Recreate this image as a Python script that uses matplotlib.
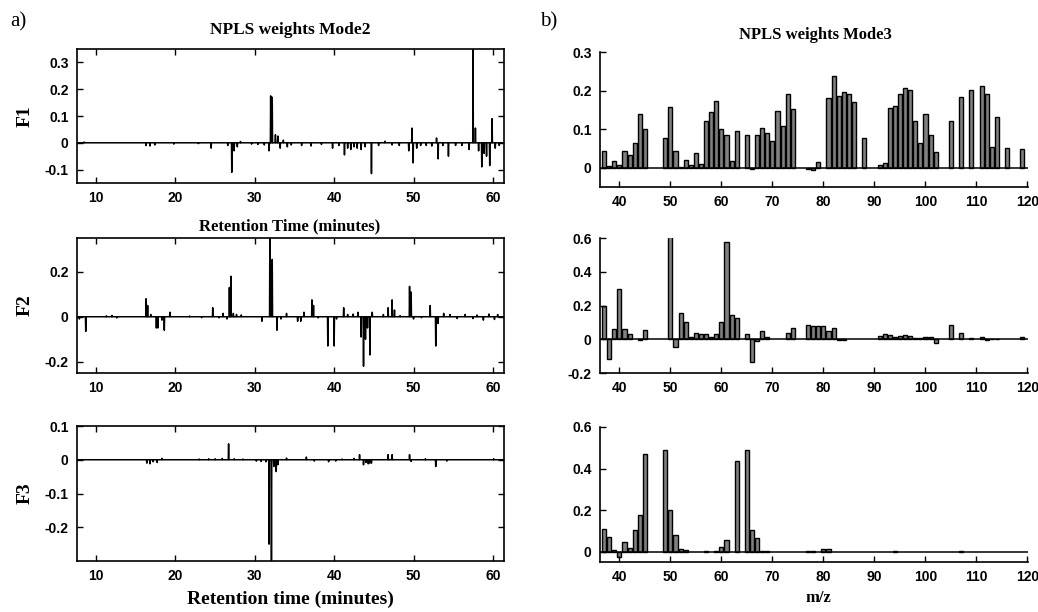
import numpy as np
import matplotlib
matplotlib.use('Agg')
import matplotlib.pyplot as plt
from matplotlib.ticker import FuncFormatter

# NPLS weights, mode 2 (retention time, minutes) - spikes
f1_t = [8.5, 16.3, 16.8, 17.4, 19.8, 22.9, 24.5, 26.6, 27.1, 27.4, 27.8, 28.2, 29.6, 30.4, 31.2, 31.8,
        32.0, 32.2, 32.6, 32.9, 33.2, 33.6, 34.1, 34.6, 35.9, 37.1, 38.4, 39.8, 40.6, 41.3, 41.7, 42.1,
        42.5, 42.9, 43.4, 43.9, 44.7, 45.6, 46.4, 47.3, 48.2, 49.4, 49.8, 49.95, 50.4, 50.9, 51.6, 52.3,
        52.9, 53.1, 53.7, 54.4, 55.3, 56.1, 57.0, 57.5, 57.8, 58.2, 58.6, 58.9, 59.2, 59.6, 59.9, 60.3, 60.8]
f1_w = [0.003, -0.01, -0.012, -0.008, -0.005, -0.003, -0.02, -0.01, -0.11, -0.03, -0.015, 0.005, -0.005,
        -0.006, -0.008, -0.03, 0.175, 0.17, 0.03, 0.025, -0.02, 0.01, -0.015, -0.008, -0.01, -0.012,
        -0.006, -0.02, -0.01, -0.045, -0.02, -0.025, -0.015, -0.02, -0.025, -0.015, -0.115, -0.01, 0.006,
        -0.008, -0.01, -0.03, 0.055, -0.075, -0.02, -0.01, -0.01, -0.012, 0.018, -0.06, -0.01, -0.05,
        -0.01, -0.01, -0.025, 0.36, 0.055, -0.03, -0.09, -0.04, -0.05, -0.085, 0.09, -0.02, -0.01]

f2_t = [7.9, 8.7, 11.3, 12.0, 12.6, 16.3, 16.5, 16.9, 17.6, 17.8, 18.3, 18.6, 19.3, 21.8, 23.3, 24.7,
        25.5, 26.0, 26.5, 26.8, 27.0, 27.3, 27.7, 28.3, 30.9, 31.9, 32.2, 32.8, 33.3, 34.0, 35.4, 35.8,
        36.2, 37.2, 37.4, 38.0, 39.2, 40.0, 40.3, 41.2, 41.7, 42.4, 43.0, 43.4, 43.7, 43.95, 44.2, 44.5,
        44.8, 46.2, 46.8, 47.3, 47.6, 48.3, 49.5, 49.7, 50.0, 51.0, 52.1, 52.8, 53.1, 53.8, 54.6, 55.5,
        56.5, 57.5, 58.0, 58.8, 59.5, 60.2, 60.6]
f2_w = [-0.01, -0.065, 0.004, 0.006, -0.005, 0.08, 0.05, 0.01, -0.05, -0.05, -0.015, -0.06, 0.02, 0.003,
        -0.004, 0.04, -0.005, 0.015, -0.01, 0.13, 0.18, 0.015, 0.01, 0.008, -0.02, 0.36, 0.255, -0.06,
        -0.01, 0.015, -0.02, -0.02, 0.02, 0.075, 0.05, -0.005, -0.13, -0.13, -0.01, 0.04, 0.01, 0.012,
        0.02, -0.09, -0.22, -0.1, -0.05, -0.17, 0.02, 0.01, 0.04, 0.075, 0.03, 0.005, 0.135, 0.11, -0.01,
        -0.004, 0.05, -0.13, -0.03, 0.015, 0.01, -0.008, 0.01, -0.008, 0.008, -0.015, 0.012, -0.012, 0.01]

f3_t = [16.4, 16.8, 17.2, 17.7, 18.3, 23.0, 24.2, 25.0, 25.9, 26.7, 27.4, 28.5, 30.2, 30.8, 31.4, 31.8,
        32.1, 32.4, 32.7, 32.9, 34.0, 36.5, 37.5, 39.3, 40.2, 41.0, 42.5, 43.2, 43.7, 44.0, 44.3, 44.5,
        44.7, 46.8, 47.3, 49.5, 49.7, 51.5, 52.8, 54.2, 60.1]
f3_w = [-0.01, -0.012, -0.006, -0.008, 0.004, 0.002, 0.003, 0.003, 0.004, 0.047, 0.003, 0.002, -0.004,
        -0.005, -0.006, -0.25, -0.32, -0.02, -0.035, -0.015, 0.005, 0.008, -0.004, -0.006, -0.004, 0.002,
        0.004, 0.015, -0.015, -0.008, -0.012, -0.01, -0.01, 0.015, 0.015, 0.015, -0.005, 0.003, -0.02,
        -0.004, 0.003]

# NPLS weights, mode 3 (m/z)
mz1 = [37, 38, 39, 40, 41, 42, 43, 44, 45, 49, 50, 51, 52, 53, 54, 55, 56, 57, 58, 59, 60, 61, 62, 63,
       65, 66, 67, 68, 69, 70, 71, 72, 73, 74, 77, 78, 79, 81, 82, 83, 84, 85, 86, 88, 91, 92, 93, 94,
       95, 96, 97, 98, 99, 100, 101, 102, 105, 107, 109, 111, 112, 113, 114, 116, 119]
m1 = [0.043, 0.004, 0.017, 0.006, 0.043, 0.032, 0.063, 0.138, 0.100, 0.078, 0.158, 0.043, 0.003, 0.020,
      0.006, 0.037, 0.009, 0.120, 0.144, 0.172, 0.100, 0.086, 0.017, 0.095, 0.086, -0.003, 0.084, 0.103,
      0.089, 0.069, 0.147, 0.109, 0.192, 0.153, -0.003, -0.006, 0.015, 0.181, 0.239, 0.187, 0.196, 0.190,
      0.170, 0.078, 0.006, 0.011, 0.155, 0.161, 0.192, 0.207, 0.201, 0.121, 0.063, 0.140, 0.084, 0.041,
      0.121, 0.184, 0.201, 0.211, 0.190, 0.054, 0.132, 0.052, 0.049]

mz2 = [37, 38, 39, 40, 41, 42, 44, 45, 50, 51, 52, 53, 54, 55, 56, 57, 58, 59, 60, 61, 62, 63, 65, 66,
       67, 68, 69, 73, 74, 77, 78, 79, 80, 81, 82, 83, 84, 91, 92, 93, 94, 95, 96, 97, 98, 99, 100, 101,
       102, 105, 107, 109, 111, 112, 113, 114, 119]
m2 = [0.198, -0.115, 0.059, 0.300, 0.059, 0.032, -0.006, 0.053, 0.650, -0.048, 0.158, 0.105, 0.016, 0.040,
      0.032, 0.032, 0.016, 0.032, 0.105, 0.574, 0.145, 0.125, 0.032, -0.133, -0.012, 0.051, 0.014, 0.040,
      0.065, 0.085, 0.079, 0.079, 0.079, 0.051, 0.065, -0.006, -0.006, 0.020, 0.032, 0.026, 0.012, 0.020,
      0.026, 0.020, 0.008, 0.008, 0.012, 0.012, -0.024, 0.085, 0.040, 0.006, 0.014, -0.006, 0.004, 0.004,
      0.014]

mz3 = [37, 38, 39, 40, 41, 42, 43, 44, 45, 49, 50, 51, 52, 53, 57, 59, 60, 61, 63, 65, 66, 67, 68, 69,
       77, 78, 80, 81, 94, 107]
m3 = [0.108, 0.071, 0.006, -0.026, 0.048, 0.016, 0.103, 0.177, 0.468, 0.490, 0.200, 0.081, 0.011, 0.006,
      0.005, 0.005, 0.023, 0.058, 0.435, 0.490, 0.103, 0.066, 0.005, 0.005, 0.003, 0.003, 0.011, 0.011,
      0.005, 0.005]


def stick(t, w, d=0.04):
    # each weight drawn as a thin spike on a zero baseline
    x, y = [], []
    for ti, wi in zip(t, w):
        x += [ti - d, ti, ti + d]
        y += [0, wi, 0]
    return [7.0] + x + [62.0], [0] + y + [0]


def fmt(v, pos):
    return '%g' % round(v, 3)


plt.rcParams['axes.unicode_minus'] = False
W, H = 1038, 612
fig = plt.figure(figsize=(W / 100, H / 100), dpi=100)


def px_axes(x0, y0, x1, y1):
    return fig.add_axes([x0 / W, 1 - y1 / H, (x1 - x0) / W, (y1 - y0) / H])


tickfont = dict(family='Liberation Sans', weight='bold', size=10)
serif_b = dict(family='Liberation Serif', weight='bold')

left_boxes = [(77, 49, 504, 183), (77, 238, 504, 373), (77, 426, 504, 561)]
left_data = [(f1_t, f1_w), (f2_t, f2_w), (f3_t, f3_w)]
left_ylim = [(-0.15, 0.35), (-0.25, 0.35), (-0.3, 0.1)]
left_yticks = [[-0.1, 0, 0.1, 0.2, 0.3], [-0.2, 0, 0.2], [-0.2, -0.1, 0, 0.1]]
left_names = ['F1', 'F2', 'F3']

for box, (t, w), yl, yt, nm in zip(left_boxes, left_data, left_ylim, left_yticks, left_names):
    ax = px_axes(*box)
    x, y = stick(t, w)
    ax.plot(x, y, color='black', lw=1.1)
    ax.set_xlim(7.6, 61.4)
    ax.set_ylim(*yl)
    ax.set_xticks([10, 20, 30, 40, 50, 60])
    ax.set_yticks(yt)
    ax.yaxis.set_major_formatter(FuncFormatter(fmt))
    ax.tick_params(direction='in', top=True, right=True, length=4, width=1, pad=6)
    for lab in ax.get_xticklabels() + ax.get_yticklabels():
        lab.set_fontproperties(matplotlib.font_manager.FontProperties(**tickfont))
    for s in ax.spines.values():
        s.set_linewidth(1.2)
    ax.set_ylabel(nm, fontsize=14, labelpad=8, **serif_b)

right_boxes = [(600, 52, 1028, 187), (600, 238, 1028, 373), (600, 427, 1028, 562)]
right_data = [(mz1, m1), (mz2, m2), (mz3, m3)]
right_ylim = [(-0.05, 0.3), (-0.2, 0.6), (-0.05, 0.6)]
right_yticks = [[0, 0.1, 0.2, 0.3], [-0.2, 0, 0.2, 0.4, 0.6], [0, 0.2, 0.4, 0.6]]

for box, (mz, m), yl, yt in zip(right_boxes, right_data, right_ylim, right_yticks):
    ax = px_axes(*box)
    ax.bar(mz, m, width=0.8, color='#808080', edgecolor='black', linewidth=1.0)
    ax.axhline(0, color='black', lw=1.1)
    ax.set_xlim(36.2, 120.1)
    ax.set_ylim(*yl)
    ax.set_xticks(range(40, 121, 10))
    ax.set_yticks(yt)
    ax.yaxis.set_major_formatter(FuncFormatter(fmt))
    ax.spines['top'].set_visible(False)
    ax.spines['right'].set_visible(False)
    for s in ax.spines.values():
        s.set_linewidth(1.2)
    ax.tick_params(direction='in', length=4, width=1, pad=6)
    for lab in ax.get_xticklabels() + ax.get_yticklabels():
        lab.set_fontproperties(matplotlib.font_manager.FontProperties(**tickfont))

fig.text(10 / W, 1 - 22 / H, 'a)', fontsize=15, family='Liberation Serif', va='center', ha='left')
fig.text(540 / W, 1 - 22 / H, 'b)', fontsize=15, family='Liberation Serif', va='center', ha='left')
fig.text(290 / W, 1 - 30 / H, 'NPLS weights Mode2', fontsize=12.5, ha='center', va='center', **serif_b)
fig.text(815 / W, 1 - 35 / H, 'NPLS weights Mode3', fontsize=12, ha='center', va='center', **serif_b)
fig.text(290 / W, 1 - 226 / H, 'Retention Time (minutes)', fontsize=12, ha='center', va='center', **serif_b)
fig.text(290 / W, 1 - 599 / H, 'Retention time (minutes)', fontsize=14, ha='center', va='center', **serif_b)
fig.text(818 / W, 1 - 598 / H, 'm/z', fontsize=12, ha='center', va='center', **serif_b)

fig.savefig('out.png', dpi=100)
